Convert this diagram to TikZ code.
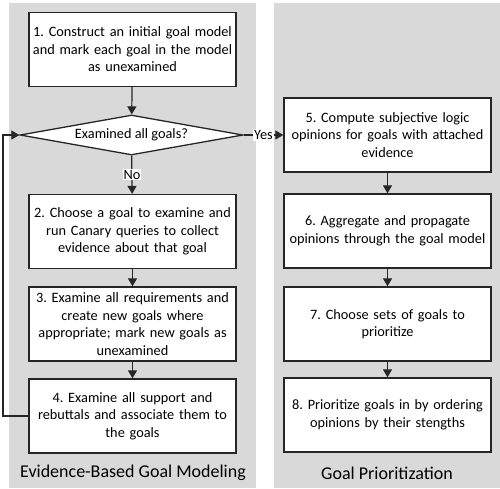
\documentclass[tikz,border=0pt]{standalone}
\usepackage{fontspec}
\setmainfont{Carlito}
\frenchspacing
\usetikzlibrary{shapes.geometric,arrows.meta}
\definecolor{panelgray}{HTML}{D9D9D9}
\definecolor{linegray}{HTML}{262626}
\begin{document}
\begin{tikzpicture}[x=1pt,y=-1pt,
  stepbox/.style={draw=linegray,line width=1.3pt,fill=white,minimum width=207pt,minimum height=74pt,
     text width=200pt,align=center,inner sep=0pt,font=\fontsize{14.3}{17.5}\selectfont},
  decision/.style={draw=linegray,line width=1.3pt,fill=white,diamond,aspect=5.5,minimum width=223pt,
     minimum height=40pt,inner sep=0pt,font=\fontsize{14.3}{17.5}\selectfont},
  flow/.style={draw=linegray,line width=1.2pt,-{Triangle[width=9pt,length=8pt]}},
  lbl/.style={fill=white,inner sep=1pt,font=\fontsize{14.3}{17.5}\selectfont},
  paneltitle/.style={font=\fontsize{18}{22}\selectfont}]
\useasboundingbox (0,0) rectangle (500,488);
\fill[panelgray] (9,3) rectangle (256,488);
\fill[panelgray] (274,3) rectangle (500,488);

\node[stepbox] (s1) at (132.5,49.5) {1. Construct an initial goal model\\and mark each goal in the model\\as unexamined};
\node[decision] (d) at (131.5,135) {Examined all goals?};
\node[stepbox] (s2) at (132.5,231.5) {2. Choose a goal to examine and\\run Canary queries to collect\\evidence about that goal};
\node[stepbox] (s3) at (132.5,324) {3. Examine all requirements and\\create new goals where\\appropriate; mark new goals as\\unexamined};
\node[stepbox] (s4) at (132.5,416) {4. Examine all support and\\rebuttals and associate them to\\the goals};

\node[stepbox] (s5) at (387.5,135) {5. Compute subjective logic\\opinions for goals with attached\\evidence};
\node[stepbox] (s6) at (387.5,231) {6. Aggregate and propagate\\opinions through the goal model};
\node[stepbox] (s7) at (387.5,324) {7. Choose sets of goals to\\prioritize};
\node[stepbox] (s8) at (387.5,415) {8. Prioritize goals in by ordering\\opinions by their stengths};

\node[paneltitle] (t1) at (133,473) {Evidence-Based Goal Modeling};
\node[paneltitle] (t2) at (387,473) {Goal Prioritization};

\draw[flow] (s1) -- (d);
\draw[flow] (d) -- node[lbl] (no) {No} (s2);
\draw[flow] (s2) -- (s3);
\draw[flow] (s3) -- (s4);
\coordinate (lp) at (3,416);
\draw[flow] (s4.west) -- (lp) |- (d.west);
\draw[flow] (d.east) -- node[lbl] (yes) {Yes} (s5.west);
\draw[flow] (s5) -- (s6);
\draw[flow] (s6) -- (s7);
\draw[flow] (s7) -- (s8);
\end{tikzpicture}
\end{document}
